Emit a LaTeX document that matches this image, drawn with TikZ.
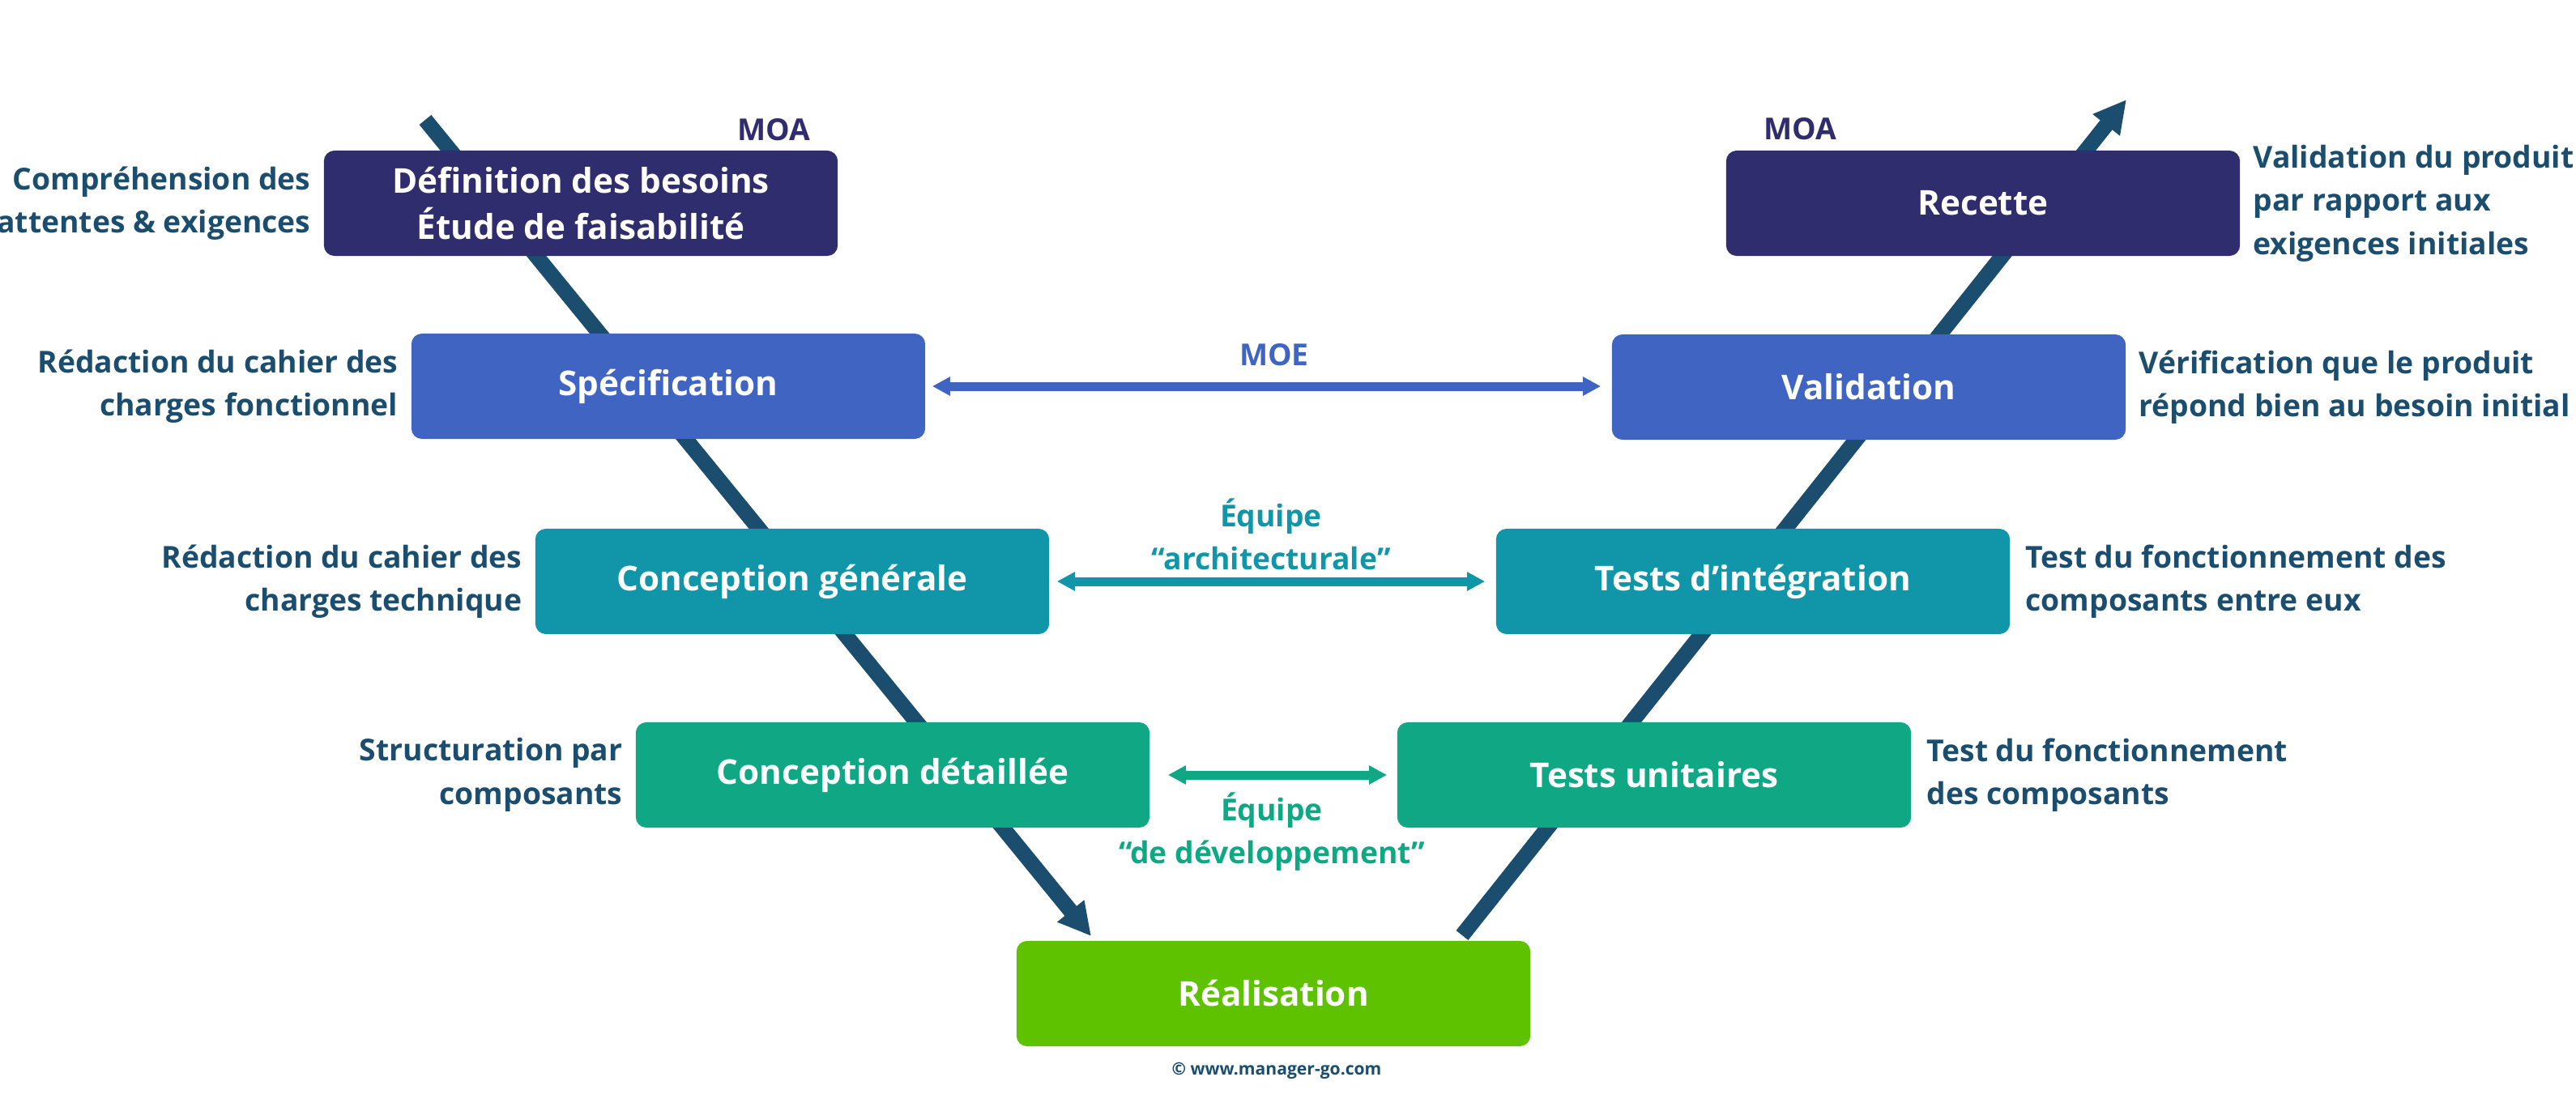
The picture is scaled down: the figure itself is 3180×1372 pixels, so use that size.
\documentclass[tikz,border=0pt]{standalone}
\usepackage{fontspec}
\setmainfont{Open Sans}
\usetikzlibrary{arrows.meta,positioning}

\definecolor{vnavy}{HTML}{302D6E}
\definecolor{vblue}{HTML}{3F64C2}
\definecolor{vteal}{HTML}{1096A8}
\definecolor{vgreen}{HTML}{10A884}
\definecolor{vlime}{HTML}{5EC200}
\definecolor{vdark}{HTML}{1A4D6E}

\tikzset{
  phase/.style={rectangle, rounded corners=0.13cm, minimum width=6.34cm, minimum height=1.3cm,
    text=white, align=center, font=\fontsize{12}{16}\selectfont\bfseries},
  note/.style={text=vdark, inner sep=0pt, font=\fontsize{10.6}{15.2}\selectfont\bfseries},
  vline/.style={line width=0.19cm, vdark, -{Triangle[length=0.4cm,width=0.4cm]}},
  team/.style={line width=0.11cm, {Triangle[length=0.22cm,width=0.22cm]}-{Triangle[length=0.22cm,width=0.22cm]}}
}

\begin{document}
\begin{tikzpicture}[x=0.01cm,y=-0.01cm]
\useasboundingbox (0,0) rectangle (3180,1372);

% the V, behind the phases
\coordinate (lstart) at (525,148);
\coordinate (lend) at (1347,1156);
\coordinate (rstart) at (1805,1155);
\coordinate (rend) at (2625,123);
\draw[vline] (lstart) -- (lend);
\draw[vline] (rstart) -- (rend);

% phases
\node[phase, fill=vnavy] (def) at (717,251) {Définition des besoins\\Étude de faisabilité};
\node[phase, fill=vnavy] (rec) at (2448,251) {Recette};
\node[phase, fill=vblue] (spec) at (825,477) {Spécification};
\node[phase, fill=vblue] (val) at (2307,478) {Validation};
\node[phase, fill=vteal] (cg) at (978,718) {Conception générale};
\node[phase, fill=vteal] (ti) at (2164,718) {Tests d’intégration};
\node[phase, fill=vgreen] (cd) at (1102,957) {Conception détaillée};
\node[phase, fill=vgreen] (tu) at (2042,957) {Tests unitaires};
\node[phase, fill=vlime] (real) at (1572,1227) {Réalisation};

% side notes
\node[note, align=right, left=0.15cm of def] (defnote) {Compréhension des\\attentes \& exigences};
\node[note, align=left, right=0.15cm of rec] (recnote) {Validation du produit\\par rapport aux\\exigences initiales};
\node[note, align=right, left=0.15cm of spec] (specnote) {Rédaction du cahier des\\charges fonctionnel};
\node[note, align=left, right=0.15cm of val] (valnote) {Vérification que le produit\\répond bien au besoin initial};
\node[note, align=right, left=0.15cm of cg] (cgnote) {Rédaction du cahier des\\charges technique};
\node[note, align=left, right=0.18cm of ti] (tinote) {Test du fonctionnement des\\composants entre eux};
\node[note, align=right, left=0.15cm of cd] (cdnote) {Structuration par\\composants};
\node[note, align=left, right=0.18cm of tu] (tunote) {Test du fonctionnement\\des composants};

% who does what
\node[note, text=vnavy] (moal) at (955,160) {MOA};
\node[note, text=vnavy] (moar) at (2222,159) {MOA};
\node[note, text=vblue] (moe) at (1573,438) {MOE};
\draw[team, vblue, shorten <=0.08cm, shorten >=0.13cm] (spec.east) -- (spec.east -| val.west);
\node[note, text=vteal, align=center] (archi) at (1569,660) {Équipe\\“architecturale”};
\draw[team, vteal, shorten <=0.09cm, shorten >=0.13cm] (cg.east) -- (cg.east -| ti.west);
\node[note, text=vgreen, align=center] (dev) at (1570,1027) {Équipe\\“de développement”};
\draw[team, vgreen, shorten <=0.22cm, shorten >=0.12cm] (cd.east) -- (cd.east -| tu.west);

\node[text=vdark, font=\fontsize{6}{7}\selectfont\bfseries] (copy) at (1576,1322) {© www.manager-go.com};
\end{tikzpicture}
\end{document}
